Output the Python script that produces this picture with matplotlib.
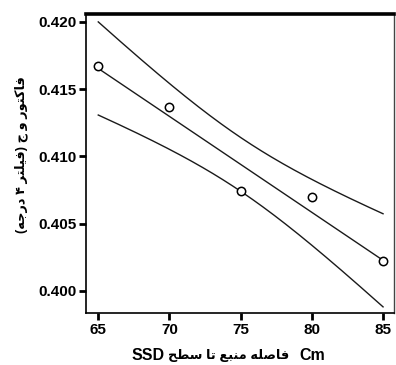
import numpy as np
import matplotlib
matplotlib.use("Agg")
import matplotlib.pyplot as plt

# ---- data ----
ssd_cm = [65, 70, 75, 80, 85]
wedge_factor = [0.4167, 0.4137, 0.4074, 0.4070, 0.4022]
x_ticks = [65, 70, 75, 80, 85]
y_ticks = [0.400, 0.405, 0.410, 0.415, 0.420]
y_tick_labels = ["0.400", "0.405", "0.410", "0.415", "0.420"]
T_CRIT = 3.182  # t(0.975, df=3)

xlabel_fa = "فاصله منبع تا سطح"
ylabel_fa = "فاكتور و ج (فيلتر ۴ درجه)"

# ---- minimal Arabic shaping (presentation forms) ----
FORMS = {
    'ا': ('\uFE8D', '\uFE8E', None, None),
    'ب': ('\uFE8F', '\uFE90', '\uFE91', '\uFE92'),
    'ت': ('\uFE95', '\uFE96', '\uFE97', '\uFE98'),
    'ج': ('\uFE9D', '\uFE9E', '\uFE9F', '\uFEA0'),
    'ح': ('\uFEA1', '\uFEA2', '\uFEA3', '\uFEA4'),
    'د': ('\uFEA9', '\uFEAA', None, None),
    'ر': ('\uFEAD', '\uFEAE', None, None),
    'س': ('\uFEB1', '\uFEB2', '\uFEB3', '\uFEB4'),
    'ص': ('\uFEB9', '\uFEBA', '\uFEBB', '\uFEBC'),
    'ط': ('\uFEC1', '\uFEC2', '\uFEC3', '\uFEC4'),
    'ع': ('\uFEC9', '\uFECA', '\uFECB', '\uFECC'),
    'ف': ('\uFED1', '\uFED2', '\uFED3', '\uFED4'),
    'ك': ('\uFED9', '\uFEDA', '\uFEDB', '\uFEDC'),
    'ل': ('\uFEDD', '\uFEDE', '\uFEDF', '\uFEE0'),
    'م': ('\uFEE1', '\uFEE2', '\uFEE3', '\uFEE4'),
    'ن': ('\uFEE5', '\uFEE6', '\uFEE7', '\uFEE8'),
    'ه': ('\uFEE9', '\uFEEA', '\uFEEB', '\uFEEC'),
    'و': ('\uFEED', '\uFEEE', None, None),
    'ي': ('\uFEF1', '\uFEF2', '\uFEF3', '\uFEF4'),
}


def shape(text):
    out = []
    n = len(text)
    for i, c in enumerate(text):
        if c not in FORMS:
            out.append(c)
            continue
        iso, fin, ini, med = FORMS[c]
        prev_j = i > 0 and text[i - 1] in FORMS and FORMS[text[i - 1]][2] is not None
        next_j = i < n - 1 and text[i + 1] in FORMS and ini is not None
        if prev_j and next_j:
            out.append(med)
        elif prev_j:
            out.append(fin)
        elif next_j:
            out.append(ini)
        else:
            out.append(iso)
    return "".join(out)


def visual(text):
    s = shape(text)[::-1]
    return s.translate(str.maketrans({'(': ')', ')': '('}))


# ---- fit & confidence band ----
x = np.array(ssd_cm, dtype=float)
y = np.array(wedge_factor, dtype=float)
slope, intercept = np.polyfit(x, y, 1)
resid = y - (slope * x + intercept)
n = len(x)
s = np.sqrt(np.sum(resid ** 2) / (n - 2))
sxx = np.sum((x - x.mean()) ** 2)
xg = np.linspace(x.min(), x.max(), 200)
yg = slope * xg + intercept
half = T_CRIT * s * np.sqrt(1.0 / n + (xg - x.mean()) ** 2 / sxx)

fig = plt.figure(figsize=(3.96, 3.65), dpi=100)
ax = fig.add_axes([0.2172, 0.1425, 0.7778, 0.8205])

ax.plot(xg, yg, color="#1a1a1a", lw=1.0)
ax.plot(xg, yg + half, color="#1a1a1a", lw=1.0)
ax.plot(xg, yg - half, color="#1a1a1a", lw=1.0)
ax.plot(x, y, linestyle="none", marker="o", markersize=6, markerfacecolor="white",
        markeredgecolor="black", markeredgewidth=1.1, zorder=5)

ax.set_xlim(64.14, 85.77)
ax.set_ylim(0.39834, 0.42063)
ax.set_xticks(x_ticks)
ax.set_xticklabels([str(v) for v in x_ticks])
ax.set_yticks(y_ticks)
ax.set_yticklabels(y_tick_labels)

lat = ['Liberation Sans', 'DejaVu Sans']
for lab in ax.get_xticklabels() + ax.get_yticklabels():
    lab.set_fontfamily(lat)
    lab.set_fontsize(11)
    lab.set_fontweight('bold')
ax.tick_params(axis='both', direction='out', length=5, width=2, color='black')
ax.tick_params(axis='x', pad=2)
ax.tick_params(axis='y', pad=2)

ax.spines['top'].set_linewidth(2.6)
ax.spines['left'].set_linewidth(1.2)
ax.spines['bottom'].set_linewidth(1.2)
ax.spines['right'].set_linewidth(1.0)
ax.spines['right'].set_color('#444444')

ly = 1 - 355 / 365
fig.text(165 / 396, ly, "SSD", ha='right', va='center', fontsize=11.5,
         fontweight='bold', family=lat)
fig.text(229 / 396, ly, visual(xlabel_fa), ha='center', va='center', fontsize=9.3,
         fontweight='bold', family=lat)
fig.text(299 / 396, ly, "Cm", ha='left', va='center', fontsize=11.5,
         fontweight='bold', family=lat)
fig.text(21 / 396, 1 - 155 / 365, visual(ylabel_fa), ha='center', va='center', rotation=90,
         fontsize=9.3, fontweight='bold', family=lat)

fig.savefig("out.png", dpi=100)
